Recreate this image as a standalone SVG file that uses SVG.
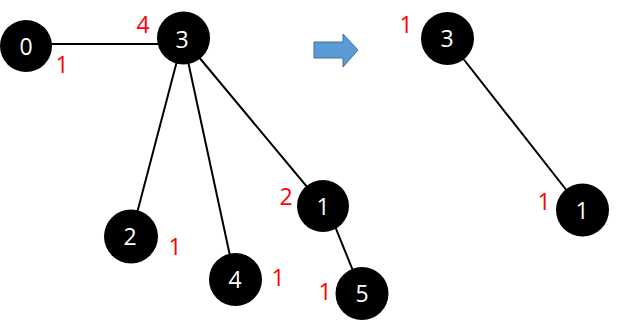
<svg xmlns="http://www.w3.org/2000/svg" width="626" height="322" viewBox="0 0 626 322">
<style>
.edge{stroke:#000;stroke-width:2;fill:none}
.node circle{fill:#000}
.node text{fill:#fff;font-family:"Open Sans","Noto Sans",sans-serif;font-size:23px;text-anchor:middle}
.lbl{fill:#ff0000;font-family:"Open Sans","Noto Sans",sans-serif;font-size:23px;text-anchor:middle}
</style>
<rect width="626" height="322" fill="#fff"/>
<g id="connectors">
<line class="edge" x1="26" y1="44" x2="183" y2="44"/>
<line class="edge" x1="183" y1="38" x2="131" y2="236"/>
<line class="edge" x1="183" y1="38" x2="235" y2="279"/>
<line class="edge" x1="183" y1="38" x2="323" y2="206"/>
<line class="edge" x1="326" y1="204" x2="362" y2="293"/>
<line class="edge" x1="447" y1="38" x2="582" y2="210"/>
</g>
<g id="arrow">
<polygon points="314,42 343,42 343,34 358,50 343,67 343,58 314,58" fill="#5b9bd5" stroke="#41719c" stroke-width="1"/>
</g>
<g id="node-0" class="node"><circle cx="26" cy="46" r="26"/><text x="26" y="54.5">0</text></g>
<g id="node-3" class="node"><circle cx="183.5" cy="38" r="26.5"/><text x="182" y="48">3</text></g>
<g id="node-2" class="node"><circle cx="131" cy="236.5" r="27"/><text x="130" y="245">2</text></g>
<g id="node-4" class="node"><circle cx="235.5" cy="279.5" r="26.5"/><text x="235" y="288">4</text></g>
<g id="node-1" class="node"><circle cx="323" cy="206" r="26"/><text x="323" y="214.5">1</text></g>
<g id="node-5" class="node"><circle cx="362" cy="293.5" r="26.5"/><text x="362" y="302">5</text></g>
<g id="node-3r" class="node"><circle cx="447.5" cy="38.5" r="26.5"/><text x="447" y="47">3</text></g>
<g id="node-1r" class="node"><circle cx="582.5" cy="210" r="26.5"/><text x="582" y="218.5">1</text></g>
<g id="labels">
<text class="lbl" x="143" y="33">4</text>
<text class="lbl" x="62" y="73">1</text>
<text class="lbl" x="175" y="255">1</text>
<text class="lbl" x="278" y="286">1</text>
<text class="lbl" x="286" y="205">2</text>
<text class="lbl" x="325" y="300">1</text>
<text class="lbl" x="406" y="33">1</text>
<text class="lbl" x="544" y="210">1</text>
</g>
</svg>
